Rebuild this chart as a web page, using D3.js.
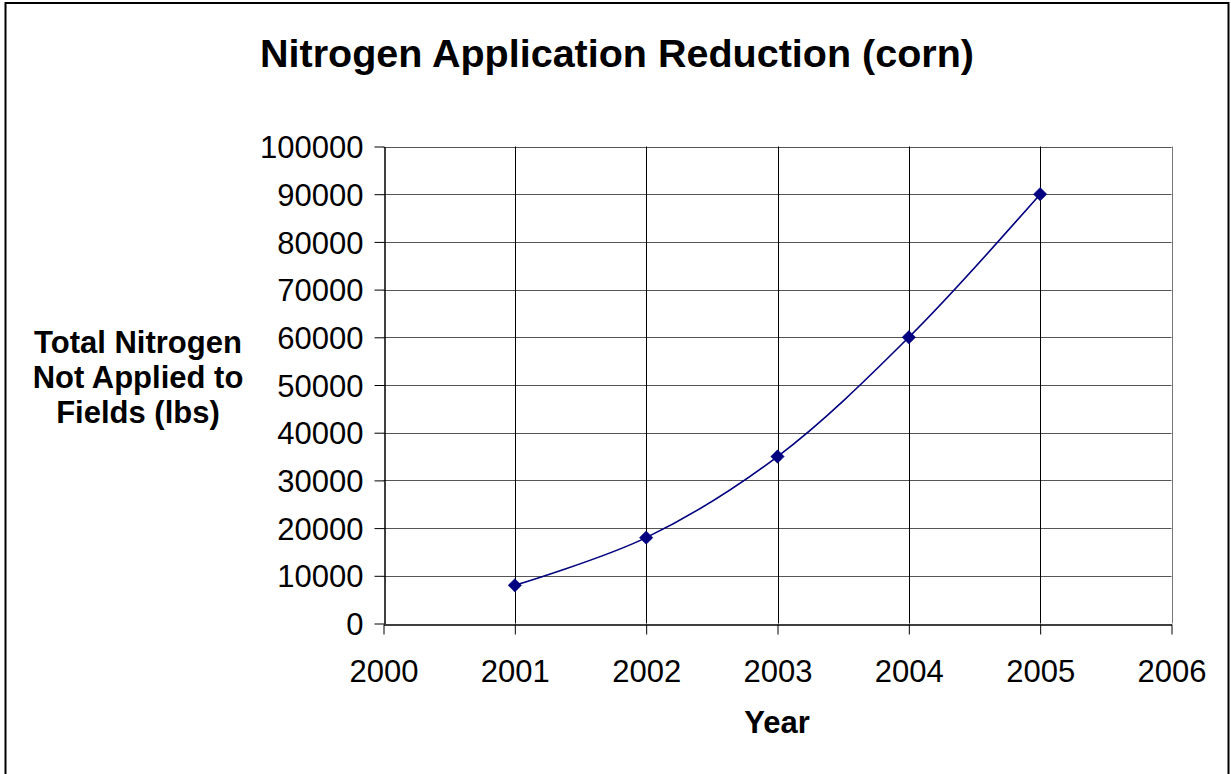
<!DOCTYPE html>
<html>
<head>
<meta charset="utf-8">
<script src="https://cdn.jsdelivr.net/npm/d3@7"></script>
<style>
  html, body { margin: 0; padding: 0; background: #fff; }
  svg { display: block; }
  text { font-family: "Liberation Sans", Arial, sans-serif; fill: #000; }
</style>
</head>
<body>
<svg id="chart" width="1231" height="774"></svg>
<script>
// ---- data ----
const years = [2001, 2002, 2003, 2004, 2005];
const nitrogenNotApplied = [8000, 18000, 35000, 60000, 90000];
const xTickValues = [2000, 2001, 2002, 2003, 2004, 2005, 2006];
const yTickValues = [0, 10000, 20000, 30000, 40000, 50000, 60000, 70000, 80000, 90000, 100000];
const titleText = "Nitrogen Application Reduction (corn)";
const yLabelLines = ["Total Nitrogen", "Not Applied to", "Fields (lbs)"];
const xLabelText = "Year";

// ---- layout ----
const W = 1231, H = 774;
const plot = { left: 383.5, right: 1171.5, top: 146.5, bottom: 623.5 };
const navy = "#000080";

const svg = d3.select("#chart");

// outer frame
svg.append("rect")
  .attr("x", 5.5).attr("y", 3).attr("width", 1223).attr("height", H + 10)
  .attr("fill", "none").attr("stroke", "#000").attr("stroke-width", 2);

const x = d3.scaleLinear().domain([2000, 2006]).range([plot.left, plot.right]);
const y = d3.scaleLinear().domain([0, 100000]).range([plot.bottom, plot.top]);

// horizontal gridlines
svg.append("g").selectAll("line").data(yTickValues.filter(v => v > 0)).join("line")
  .attr("x1", plot.left).attr("x2", plot.right)
  .attr("y1", d => Math.round(y(d)) + 0.5).attr("y2", d => Math.round(y(d)) + 0.5)
  .attr("stroke", "#555").attr("stroke-width", 1);

// vertical gridlines
svg.append("g").selectAll("line").data(xTickValues.filter(v => v > 2000)).join("line")
  .attr("x1", d => Math.round(x(d)) + 0.5).attr("x2", d => Math.round(x(d)) + 0.5)
  .attr("y1", plot.top).attr("y2", plot.bottom)
  .attr("stroke", d => d === 2006 ? "#777" : "#000").attr("stroke-width", 1);

// y axis
const yAxis = svg.append("g")
  .attr("transform", `translate(${Math.round(plot.left) + 0.5},0)`)
  .call(d3.axisLeft(y).tickValues(yTickValues).tickFormat(d3.format("d"))
    .tickSize(10).tickSizeOuter(0).tickPadding(11));
yAxis.select(".domain").attr("stroke", "#000").attr("stroke-width", 1.5);
yAxis.selectAll(".tick line").attr("stroke", "#000");
yAxis.selectAll(".tick text")
  .attr("font-size", 31).attr("font-family", "Liberation Sans, Arial, sans-serif")
  .attr("fill", "#000").attr("dy", "0.36em");

// x axis
const xAxis = svg.append("g")
  .attr("transform", `translate(0,${Math.round(plot.bottom) + 0.5})`)
  .call(d3.axisBottom(x).tickValues(xTickValues).tickFormat(d3.format("d"))
    .tickSize(10).tickSizeOuter(0).tickPadding(0));
xAxis.select(".domain").attr("stroke", "#000").attr("stroke-width", 1.5);
xAxis.selectAll(".tick line").attr("stroke", "#000");
xAxis.selectAll(".tick text")
  .attr("font-size", 31).attr("font-family", "Liberation Sans, Arial, sans-serif")
  .attr("fill", "#000").attr("dy", null).attr("y", 57);

// line
const pts = years.map((yr, i) => [x(yr), y(nitrogenNotApplied[i])]);
svg.append("path")
  .attr("d", d3.line().curve(d3.curveCatmullRom.alpha(0.5))(pts))
  .attr("fill", "none").attr("stroke", navy).attr("stroke-width", 1.6);

// markers
svg.append("g").selectAll("path").data(pts).join("path")
  .attr("transform", d => `translate(${d[0]},${d[1]}) rotate(45)`)
  .attr("d", d3.symbol().type(d3.symbolSquare).size(90)())
  .attr("fill", navy).attr("stroke", navy).attr("stroke-width", 0.5);

// title
svg.append("text")
  .attr("x", 617).attr("y", 67).attr("text-anchor", "middle")
  .attr("font-size", 39.5).attr("font-weight", "bold")
  .text(titleText);

// y label
const yl = svg.append("text").attr("text-anchor", "middle")
  .attr("font-size", 31).attr("font-weight", "bold");
yLabelLines.forEach((t, i) => {
  yl.append("tspan").attr("x", 138).attr("y", 353 + i * 35).text(t);
});

// x label
svg.append("text")
  .attr("x", 777).attr("y", 733).attr("text-anchor", "middle")
  .attr("font-size", 31).attr("font-weight", "bold")
  .text(xLabelText);
</script>
</body>
</html>
